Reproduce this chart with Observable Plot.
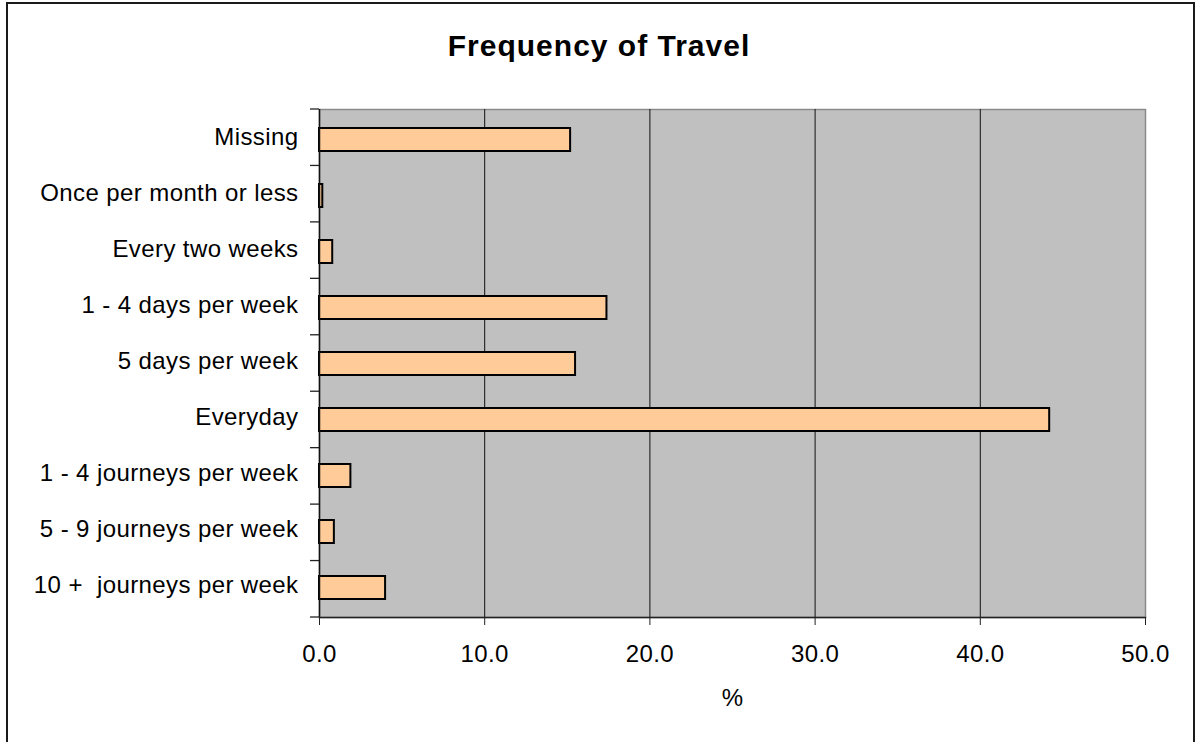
<!DOCTYPE html>
<html>
<head>
<meta charset="utf-8">
<script src="https://cdn.jsdelivr.net/npm/d3@7"></script>
<script src="https://cdn.jsdelivr.net/npm/@observablehq/plot@0.6"></script>
<style>
  html, body { margin: 0; padding: 0; background: #fff; }
  #chart { position: relative; width: 1202px; height: 742px; overflow: hidden; font-family: "Liberation Sans", Arial, sans-serif; }
  #frame { position: absolute; left: 6px; top: 2px; width: 1189px; height: 780px; border: 2px solid #1a1a1a; box-sizing: border-box; pointer-events: none; }
  #title { position: absolute; left: 0; top: 28px; width: 1198px; height: 36px; line-height: 36px; text-align: center; font-size: 30px; font-weight: bold; letter-spacing: 1px; color: #000; }
  #chart svg { position: absolute; left: 0; top: 0; }
  #chart svg text { letter-spacing: 0.4px; white-space: pre; }
</style>
</head>
<body>
<div id="chart">
  <div id="title">Frequency of Travel</div>
  <div id="frame"></div>
</div>
<script>
// Travel frequency categories, top to bottom, with their share (%)
const categories = [
  "Missing",
  "Once per month or less",
  "Every two weeks",
  "1 - 4 days per week",
  "5 days per week",
  "Everyday",
  "1 - 4 journeys per week",
  "5 - 9 journeys per week",
  "10 +  journeys per week"
];
const percents = [15.2, 0.2, 0.8, 17.4, 15.5, 44.2, 1.9, 0.9, 4.0];
const xTicks = [0, 10, 20, 30, 40, 50];
const gridTicks = [10, 20, 30, 40];

const data = categories.map((category, i) => ({category, percent: percents[i]}));

// Short ticks on the category axis, drawn at the boundaries between bands
function bandBoundaryTicks(index, scales, values, dims) {
  const top = dims.marginTop;
  const bottom = dims.height - dims.marginBottom;
  const n = categories.length;
  const step = (bottom - top) / n;
  const g = d3.create("svg:g");
  for (let k = 0; k <= n; k++) {
    const yy = top + k * step;
    g.append("line")
      .attr("x1", dims.marginLeft - 9).attr("x2", dims.marginLeft)
      .attr("y1", yy).attr("y2", yy)
      .attr("stroke", "#222").attr("stroke-width", 1.3);
  }
  return g.node();
}

const chart = Plot.plot({
  width: 1202,
  height: 742,
  marginLeft: 319,
  marginRight: 57,
  marginTop: 109,
  marginBottom: 125,
  style: {fontFamily: "'Liberation Sans', Arial, sans-serif", fontSize: "24px", color: "#000", background: "transparent", overflow: "visible"},
  x: {domain: [0, 50]},
  y: {domain: categories, paddingInner: 0.59, paddingOuter: 0.295, align: 0.5},
  marks: [
    Plot.frame({fill: "#c0c0c0", stroke: "#8a8a8a", strokeWidth: 1.5}),
    Plot.ruleX(gridTicks, {stroke: "#111", strokeWidth: 1}),
    Plot.barX(data, {x: "percent", y: "category", fill: "#ffcc99", stroke: "#000", strokeWidth: 2}),
    Plot.ruleX([0], {stroke: "#111", strokeWidth: 1.5}),
    Plot.frame({anchor: "bottom", stroke: "#222", strokeWidth: 1.3}),
    bandBoundaryTicks,
    Plot.axisX(xTicks, {
      tickSize: 8, tickPadding: 19, stroke: "#222",
      tickFormat: d => d.toFixed(1), fontSize: 24, label: null
    }),
    Plot.axisY({tickSize: 0, tickPadding: 21, fontSize: 24, dy: -3, label: null}),
    Plot.text(["%"], {frameAnchor: "bottom", dy: 81, fontSize: 24, lineAnchor: "middle", fill: "#000"})
  ]
});

document.getElementById("chart").insertBefore(chart, document.getElementById("title"));
</script>
</body>
</html>
